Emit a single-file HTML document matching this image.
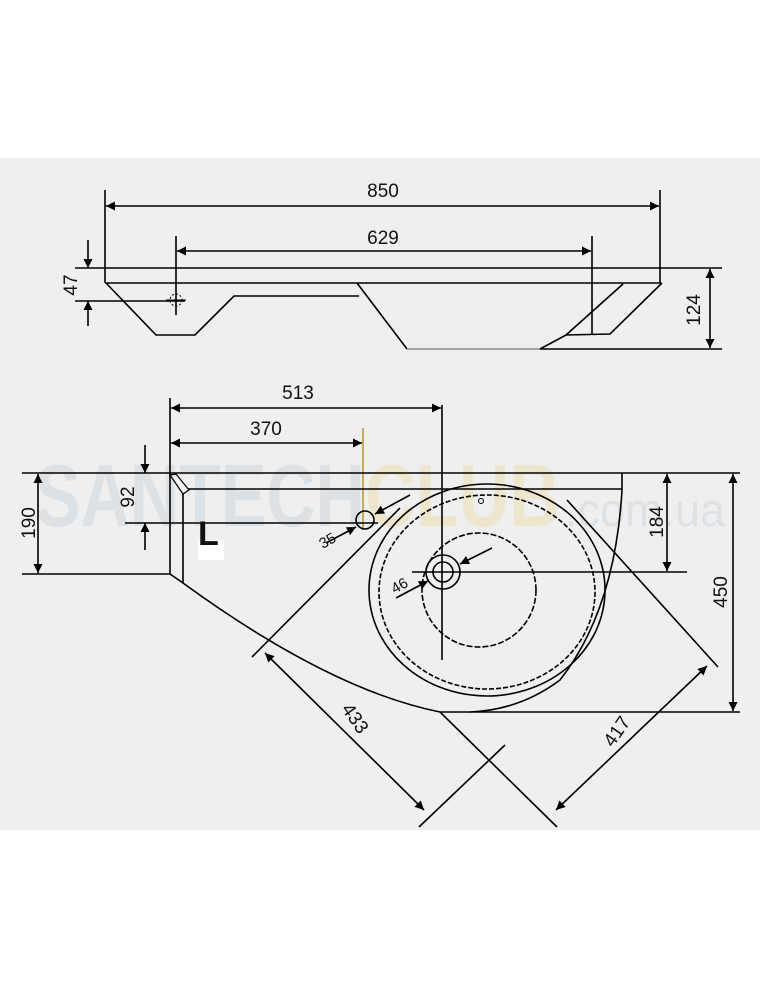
<!DOCTYPE html>
<html><head><meta charset="utf-8"><style>
html,body{margin:0;padding:0;background:#fff}
svg{display:block}
text{font-family:"Liberation Sans",sans-serif;fill:#111}
</style></head><body>
<svg width="760" height="1000" viewBox="0 0 760 1000">
<defs>
<marker id="a" viewBox="0 0 10 10" refX="10" refY="5" markerWidth="12" markerHeight="9" orient="auto-start-reverse" markerUnits="userSpaceOnUse"><path d="M0,0L10,5L0,10z" fill="#000"/></marker>
</defs>
<rect x="0" y="158" width="760" height="672" fill="#efefef"/>
<!-- watermark -->
<g opacity="0.55">
<text x="35" y="526" font-size="88" font-weight="bold" style="fill:#cdd6de" textLength="330" lengthAdjust="spacingAndGlyphs">SANTECH</text>
<text x="365" y="526" font-size="88" font-weight="bold" style="fill:#eee0b0" textLength="195" lengthAdjust="spacingAndGlyphs">CLUB</text>
<text x="565" y="526" font-size="46" style="fill:#cdd6de" textLength="160" lengthAdjust="spacingAndGlyphs">.com.ua</text>
</g>

<g stroke="#000" stroke-width="1.6" fill="none">
<!-- TOP VIEW -->
<line x1="105" y1="268" x2="722" y2="268"/>
<line x1="105" y1="283" x2="661" y2="283"/>
<line x1="105" y1="190" x2="105" y2="283"/>
<line x1="660" y1="190" x2="660" y2="283"/>
<line x1="106" y1="206" x2="659" y2="206" marker-start="url(#a)" marker-end="url(#a)"/>
<line x1="176" y1="236" x2="176" y2="315"/>
<line x1="592" y1="236" x2="592" y2="335"/>
<line x1="177" y1="251" x2="591" y2="251" marker-start="url(#a)" marker-end="url(#a)"/>
<polyline points="106,283 156,335 195,335 234,296 359,296"/>
<polyline points="357,283 407,349"/>
<line x1="407" y1="349" x2="540" y2="349" stroke="#888"/>
<polyline points="540,349 566,335 610,334 662,283"/>
<line x1="623" y1="284" x2="566" y2="335"/>
<line x1="540" y1="349" x2="722" y2="349"/>
<line x1="710" y1="269" x2="710" y2="348" marker-start="url(#a)" marker-end="url(#a)"/>
<line x1="75" y1="268" x2="105" y2="268"/>
<line x1="75" y1="301" x2="185" y2="301"/>
<line x1="88" y1="240" x2="88" y2="268" marker-end="url(#a)"/>
<line x1="88" y1="326" x2="88" y2="301" marker-end="url(#a)"/>
<circle cx="176" cy="300" r="6" stroke-width="1" stroke-dasharray="2 2"/>
<line x1="166" y1="300" x2="186" y2="300" stroke-width="1"/>

<!-- BOTTOM VIEW -->
<line x1="170" y1="398" x2="170" y2="574"/>
<line x1="442" y1="405" x2="442" y2="660"/>
<line x1="171" y1="408" x2="441" y2="408" marker-start="url(#a)" marker-end="url(#a)"/>
<line x1="363" y1="428" x2="363" y2="530" stroke="#b99b3a"/>
<line x1="171" y1="443" x2="362" y2="443" marker-start="url(#a)" marker-end="url(#a)"/>
<line x1="22" y1="473" x2="740" y2="473"/>
<line x1="22" y1="574" x2="170" y2="574"/>
<line x1="38" y1="474" x2="38" y2="573" marker-start="url(#a)" marker-end="url(#a)"/>
<line x1="145" y1="445" x2="145" y2="473" marker-end="url(#a)"/>
<line x1="145" y1="550" x2="145" y2="523" marker-end="url(#a)"/>
<line x1="125" y1="523" x2="378" y2="523"/>
<line x1="622" y1="473" x2="622" y2="490"/>
<line x1="188" y1="489" x2="622" y2="489"/>
<polygon points="170,475 176,474 189,490 183,494" stroke-width="1.2"/>
<line x1="183" y1="494" x2="183" y2="583"/>
<path d="M170,574 L183,583 Q330,690 440,712"/>
<line x1="440" y1="712" x2="740" y2="712"/>
<path d="M622,490 Q615,610 560,680 Q520,710 470,712"/>
<line x1="667" y1="474" x2="667" y2="571" marker-start="url(#a)" marker-end="url(#a)"/>
<line x1="412" y1="572" x2="687" y2="572"/>
<line x1="733" y1="474" x2="733" y2="711" marker-start="url(#a)" marker-end="url(#a)"/>
<ellipse cx="487" cy="590" rx="118" ry="106"/>
<ellipse cx="487" cy="592" rx="108" ry="97" stroke-dasharray="5 2"/>
<ellipse cx="479" cy="590" rx="57" ry="57" stroke-dasharray="6 2"/>
<circle cx="443" cy="572" r="17"/>
<circle cx="443" cy="572" r="10"/>
<circle cx="481" cy="501" r="2.5" stroke-width="1"/>
<circle cx="365" cy="520" r="9"/>
<line x1="410" y1="495" x2="375" y2="514" marker-end="url(#a)"/>
<line x1="326" y1="543" x2="356" y2="527" marker-end="url(#a)"/>
<line x1="492" y1="548" x2="460" y2="564" marker-end="url(#a)"/>
<line x1="396" y1="598" x2="428" y2="581" marker-end="url(#a)"/>
<line x1="400" y1="508" x2="252" y2="657"/>
<line x1="567" y1="500" x2="718" y2="667"/>
<line x1="419" y1="827" x2="505" y2="745"/>
<line x1="440" y1="712" x2="557" y2="827"/>
<line x1="265" y1="653" x2="424" y2="810" marker-start="url(#a)" marker-end="url(#a)"/>
<line x1="707" y1="666" x2="556" y2="810" marker-start="url(#a)" marker-end="url(#a)"/>
</g>
<rect x="198" y="540" width="26" height="20" fill="#fff"/>
<text x="198" y="545" font-size="34" font-weight="bold">L</text>

<g font-size="19">
<text x="383" y="197" text-anchor="middle">850</text>
<text x="383" y="244" text-anchor="middle">629</text>
<text transform="translate(77,285) rotate(-90)" text-anchor="middle">47</text>
<text transform="translate(700,310) rotate(-90)" text-anchor="middle">124</text>
<text x="298" y="399" text-anchor="middle">513</text>
<text x="266" y="435" text-anchor="middle">370</text>
<text transform="translate(35,523) rotate(-90)" text-anchor="middle">190</text>
<text transform="translate(134,497) rotate(-90)" text-anchor="middle">92</text>
<text transform="translate(663,522) rotate(-90)" text-anchor="middle">184</text>
<text transform="translate(727,592) rotate(-90)" text-anchor="middle">450</text>
<text transform="translate(350,722) rotate(55)" text-anchor="middle">433</text>
<text transform="translate(622,735) rotate(-55)" text-anchor="middle">417</text>
</g>
<g font-size="15">
<text transform="translate(330,545) rotate(-30)" text-anchor="middle">35</text>
<text transform="translate(402,590) rotate(-30)" text-anchor="middle">46</text>
</g>
</svg>
</body></html>
